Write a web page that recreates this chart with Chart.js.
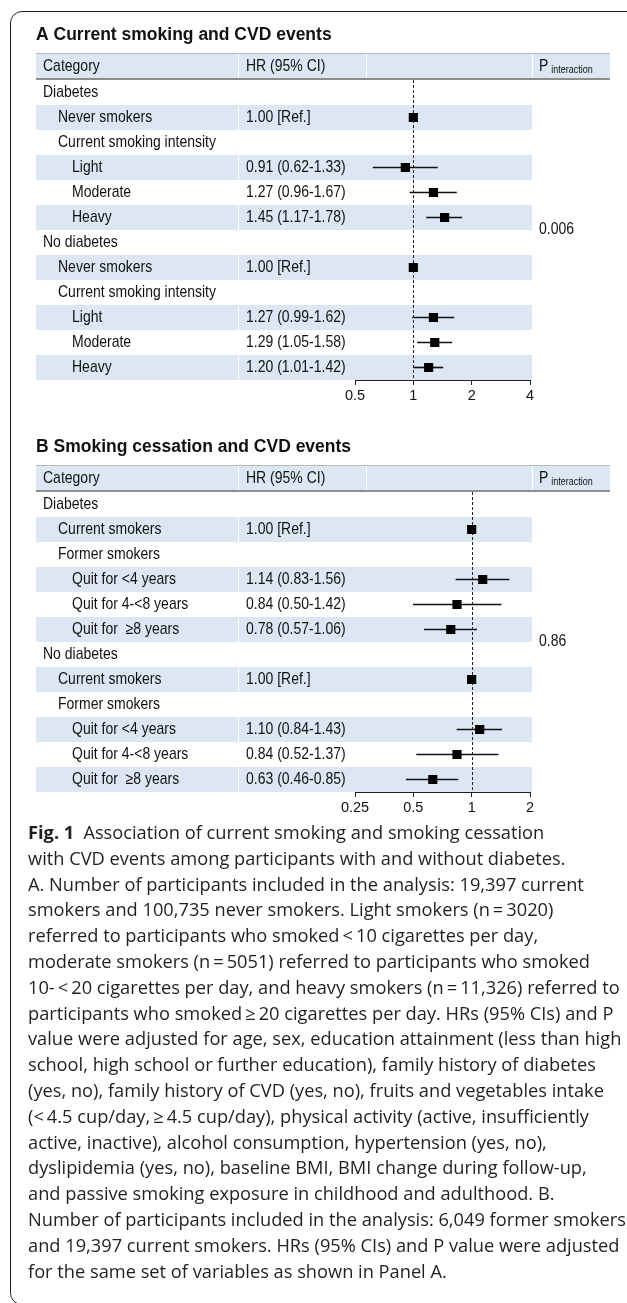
<!DOCTYPE html>
<html>
<head>
<meta charset="utf-8">
<script src="https://cdn.jsdelivr.net/npm/chart.js@4.4.1/dist/chart.umd.min.js"></script>
<style>
  body { margin: 0; background: #fff; width: 627px; height: 1303px; overflow: hidden; position: relative; }
  #frame { position: absolute; left: 10px; top: 11px; width: 700px; height: 1294px; border: 1.5px solid #222; border-radius: 12px; box-sizing: border-box; }
  canvas.panel { position: absolute; left: 0; }
  #caption { position: absolute; left: 28px; top: 820px; font-family: "Open Sans"; font-size: 18px; line-height: 25.8px; color: #231f20; }
  #caption div { white-space: nowrap; height: 25.8px; }
  #caption span { display: inline-block; transform-origin: left center; }
</style>
</head>
<body>
<div id="frame"></div>
<canvas id="panelA" class="panel" width="627" height="412" style="top:0"></canvas>
<canvas id="panelB" class="panel" width="627" height="412" style="top:412px"></canvas>
<div id="caption">
  <div><span><b>Fig. 1</b>&ensp;Association of current smoking and smoking cessation</span></div>
  <div><span>with CVD events among participants with and without diabetes.</span></div>
  <div><span>A. Number of participants included in the analysis: 19,397 current</span></div>
  <div><span>smokers and 100,735 never smokers. Light smokers (n&thinsp;=&thinsp;3020)</span></div>
  <div><span>referred to participants who smoked&thinsp;&lt;&thinsp;10 cigarettes per day,</span></div>
  <div><span>moderate smokers (n&thinsp;=&thinsp;5051) referred to participants who smoked</span></div>
  <div><span>10-&thinsp;&lt;&thinsp;20 cigarettes per day, and heavy smokers (n&thinsp;=&thinsp;11,326) referred to</span></div>
  <div><span>participants who smoked&thinsp;≥&thinsp;20 cigarettes per day. HRs (95% CIs) and P</span></div>
  <div><span>value were adjusted for age, sex, education attainment (less than high</span></div>
  <div><span>school, high school or further education), family history of diabetes</span></div>
  <div><span>(yes, no), family history of CVD (yes, no), fruits and vegetables intake</span></div>
  <div><span>(&lt;&thinsp;4.5 cup/day,&thinsp;≥&thinsp;4.5 cup/day), physical activity (active, insufficiently</span></div>
  <div><span>active, inactive), alcohol consumption, hypertension (yes, no),</span></div>
  <div><span>dyslipidemia (yes, no), baseline BMI, BMI change during follow-up,</span></div>
  <div><span>and passive smoking exposure in childhood and adulthood. B.</span></div>
  <div><span>Number of participants included in the analysis: 6,049 former smokers</span></div>
  <div><span>and 19,397 current smokers. HRs (95% CIs) and P value were adjusted</span></div>
  <div><span>for the same set of variables as shown in Panel A.</span></div>
</div>
<script>
// Panel A: current smoking
const CAT_A = ['Diabetes', 'Never smokers', 'Current smoking intensity', 'Light', 'Moderate', 'Heavy',
               'No diabetes', 'Never smokers', 'Current smoking intensity', 'Light', 'Moderate', 'Heavy'];
const LEVEL_A = [0, 1, 1, 2, 2, 2, 0, 1, 1, 2, 2, 2];
const HR_A = [null, 1.00, null, 0.91, 1.27, 1.45, null, 1.00, null, 1.27, 1.29, 1.20];
const LO_A = [null, null, null, 0.62, 0.96, 1.17, null, null, null, 0.99, 1.05, 1.01];
const HI_A = [null, null, null, 1.33, 1.67, 1.78, null, null, null, 1.62, 1.58, 1.42];
const TICKS_A = [0.5, 1, 2, 4];
const P_A = '0.006';

// Panel B: smoking cessation
const CAT_B = ['Diabetes', 'Current smokers', 'Former smokers', 'Quit for <4 years', 'Quit for 4-<8 years', 'Quit for  ≥8 years',
               'No diabetes', 'Current smokers', 'Former smokers', 'Quit for <4 years', 'Quit for 4-<8 years', 'Quit for  ≥8 years'];
const LEVEL_B = [0, 1, 1, 2, 2, 2, 0, 1, 1, 2, 2, 2];
const HR_B = [null, 1.00, null, 1.14, 0.84, 0.78, null, 1.00, null, 1.10, 0.84, 0.63];
const LO_B = [null, null, null, 0.83, 0.50, 0.57, null, null, null, 0.84, 0.52, 0.46];
const HI_B = [null, null, null, 1.56, 1.42, 1.06, null, null, null, 1.43, 1.37, 0.85];
const TICKS_B = [0.25, 0.5, 1, 2];
const P_B = '0.86';

const BAND = '#dce7f3';
const FONT = '"Liberation Sans", Arial, sans-serif';
const INDENT = [43, 58, 72];
const STRETCH = 1.15; // table text in the figure is a bit taller than plain Arial

function hrText(hr, lo, hi) {
  if (hr == null) return '';
  if (lo == null) return hr.toFixed(2) + ' [Ref.]';
  return `${hr.toFixed(2)} (${lo.toFixed(2)}-${hi.toFixed(2)})`;
}

function tallText(ctx, s, x, y) {
  ctx.save();
  ctx.translate(x, y);
  ctx.scale(1, STRETCH);
  ctx.fillText(s, 0, 0);
  ctx.restore();
}

// draws the table part (title, header, shaded rows, text columns, reference line)
const tablePlugin = {
  id: 'table',
  beforeDatasetsDraw(chart, args, o) {
    const { ctx, chartArea, scales: { x, y } } = chart;
    ctx.save();
    ctx.textBaseline = 'middle';
    ctx.fillStyle = '#111';
    ctx.font = `bold 17.5px ${FONT}`;
    ctx.fillText(o.title, 36, 35);

    // header
    ctx.fillStyle = BAND;
    ctx.fillRect(36, 53, 574, 26);
    ctx.fillStyle = '#b9b9b9';
    ctx.fillRect(36, 53, 574, 1);
    ctx.fillStyle = '#8e8e8e';
    ctx.fillRect(36, 78, 574, 2);
    ctx.fillStyle = '#fff';
    [238, 366, 532].forEach(sx => ctx.fillRect(sx, 54, 1, 24));
    ctx.fillStyle = '#111';
    ctx.font = `14px ${FONT}`;
    tallText(ctx, 'Category', 43, 67);
    tallText(ctx, 'HR (95% CI)', 246, 67);
    tallText(ctx, 'P', 539, 67);
    const pw = ctx.measureText('P').width;
    ctx.font = `9px ${FONT}`;
    tallText(ctx, 'interaction', 539 + pw + 3, 70);

    // rows
    o.cats.forEach((c, i) => {
      const yc = y.getPixelForValue(i);
      if (i % 2 === 1) {
        ctx.fillStyle = BAND;
        ctx.fillRect(36, yc - 12.5, 496, 25);
        ctx.fillStyle = '#fff';
        ctx.fillRect(238, yc - 12.5, 1, 25);
      }
      ctx.fillStyle = '#111';
      ctx.font = `14px ${FONT}`;
      tallText(ctx, c, INDENT[o.levels[i]], yc + 0.5);
      tallText(ctx, hrText(o.hr[i], o.lo[i], o.hi[i]), 246, yc + 0.5);
    });

    tallText(ctx, o.p, 539, (chartArea.top + chartArea.bottom) / 2);

    // dashed line at HR = 1
    const x1 = Math.round(x.getPixelForValue(1)) + 0.5;
    ctx.strokeStyle = '#222';
    ctx.lineWidth = 1;
    ctx.setLineDash([3, 2]);
    ctx.beginPath();
    ctx.moveTo(x1, chartArea.top);
    ctx.lineTo(x1, chartArea.bottom);
    ctx.stroke();
    ctx.restore();
  }
};

function makePanel(id, title, cats, levels, hr, lo, hi, ticks, p) {
  new Chart(document.getElementById(id), {
    type: 'bar',
    data: {
      labels: cats,
      datasets: [
        { type: 'line', data: hr, showLine: false, pointStyle: 'rect', pointRadius: 6.5, pointHoverRadius: 6.5,
          backgroundColor: '#000', borderColor: '#000', borderWidth: 0, order: 1 },
        { type: 'bar', data: lo.map((v, i) => v == null ? null : [v, hi[i]]), backgroundColor: '#111',
          barThickness: 1, order: 2 }
      ]
    },
    options: {
      indexAxis: 'y',
      responsive: false,
      animation: false,
      events: [],
      layout: { padding: { left: 355, right: 97, top: 80, bottom: 0 } },
      plugins: {
        legend: { display: false },
        tooltip: { enabled: false },
        table: { title, cats, levels, hr, lo, hi, p }
      },
      scales: {
        y: { type: 'category', display: false, offset: true },
        x: {
          type: 'logarithmic', min: ticks[0], max: ticks[ticks.length - 1],
          afterBuildTicks: s => { s.ticks = ticks.map(v => ({ value: v })); },
          afterFit: s => { s.height = 32; },
          grid: { drawOnChartArea: false, drawTicks: true, tickLength: 5, color: '#222', lineWidth: 1 },
          border: { display: true, color: '#222', width: 1 },
          ticks: { color: '#111', font: { family: FONT, size: 14.5 }, padding: 2, maxRotation: 0, callback: v => String(v) }
        }
      }
    },
    plugins: [tablePlugin]
  });
}

makePanel('panelA', 'A Current smoking and CVD events', CAT_A, LEVEL_A, HR_A, LO_A, HI_A, TICKS_A, P_A);
makePanel('panelB', 'B Smoking cessation and CVD events', CAT_B, LEVEL_B, HR_B, LO_B, HI_B, TICKS_B, P_B);

// squeeze caption lines to the width of the original text block
const spans = document.querySelectorAll('#caption span');
let widest = 0;
spans.forEach(s => { widest = Math.max(widest, s.getBoundingClientRect().width); });
const k = 598 / widest;
spans.forEach(s => { s.style.transform = `scaleX(${k})`; });
</script>
</body>
</html>
